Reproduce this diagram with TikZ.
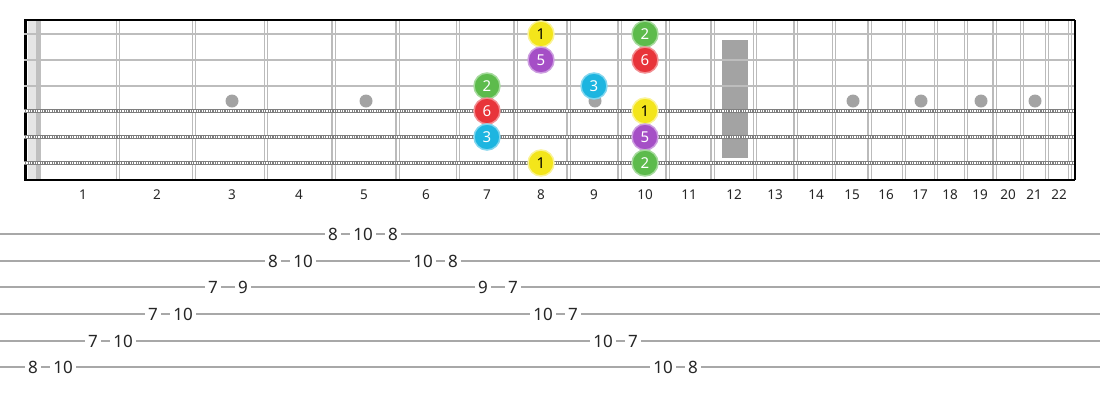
\documentclass[tikz,border=0pt]{standalone}
\usepackage{fontspec}
\setmainfont{Noto Sans}
\usepackage{xcolor}
\usepackage{tikz}
\definecolor{fretgray}{HTML}{BBBBBB}
\definecolor{plaingray}{HTML}{BDBDBD}
\definecolor{woundgray}{HTML}{7E7E7E}
\definecolor{inlaygray}{HTML}{A3A3A3}
\definecolor{tabgray}{HTML}{A8A8A8}
\definecolor{yellownote}{HTML}{F3E51B}
\definecolor{greennote}{HTML}{5DBB4C}
\definecolor{purplenote}{HTML}{A54FC6}
\definecolor{rednote}{HTML}{E8343A}
\definecolor{cyannote}{HTML}{1DB5E0}

\begin{document}
\begin{tikzpicture}[x=1pt,y=-1pt]
	\useasboundingbox (0,0) rectangle (1100,400);
	\tikzstyle{fretwire}=[draw=fretgray,double=white,double distance=2pt,line width=1.2pt]
	\tikzstyle{plainstring}=[draw=plaingray,line width=2.6pt]
	\tikzstyle{woundbase}=[draw=woundgray,line width=4.4pt]
	\tikzstyle{woundtex}=[draw=white,line width=1.3pt,dash pattern=on 1.1pt off 1.3pt]
	\tikzstyle{inlay}=[fill=inlaygray]
	\tikzstyle{fretnum}=[font=\fontsize{13.5}{15}\selectfont,text=black!85]
	\tikzstyle{tabnum}=[fill=white,inner sep=3.5pt,font=\fontsize{17}{19}\selectfont,text=black!85]
	\tikzstyle{note}=[draw,circle,line width=1.5pt,minimum size=26pt,inner sep=0pt,font=\fontsize{15}{17}\selectfont,text=white]
	\tikzstyle{yellow}=[note,fill=yellownote,draw=yellownote!45!white,text=black]
	\tikzstyle{green}=[note,fill=greennote,draw=greennote!55!white]
	\tikzstyle{purple}=[note,fill=purplenote,draw=purplenote!55!white]
	\tikzstyle{red}=[note,fill=rednote,draw=rednote!55!white]
	\tikzstyle{cyan}=[note,fill=cyannote,draw=cyannote!55!white]
	% nut
	\fill[black!10] (28,20) rectangle (36,180);
	\fill[black!25] (36,20) rectangle (41,180);
	\draw[line width=3.5pt] (25.5,20)--(25.5,180);
	% frets
	\draw[fretwire] (118,20)--(118,180) (194,20)--(194,180) (266,20)--(266,180) (333.5,20)--(333.5,180)
		(397.5,20)--(397.5,180) (458,20)--(458,180) (515.5,20)--(515.5,180) (568.5,20)--(568.5,180)
		(619.5,20)--(619.5,180) (667.5,20)--(667.5,180) (712.5,20)--(712.5,180) (755,20)--(755,180)
		(795.5,20)--(795.5,180) (834,20)--(834,180) (869.5,20)--(869.5,180) (904,20)--(904,180)
		(936,20)--(936,180) (966,20)--(966,180) (994.5,20)--(994.5,180) (1022,20)--(1022,180)
		(1047,20)--(1047,180) (1070,20)--(1070,180);
	% inlays
	\fill[inlay] (232,101) circle (6.5) (366,101) circle (6.5) (487,101) circle (6.5) (595,101) circle (6.5)
		(853,101) circle (6.5) (921,101) circle (6.5) (981,101) circle (6.5) (1035,101) circle (6.5);
	\fill[inlay] (722,40) rectangle (748,158);
	% strings
	\draw[plainstring] (24,34)--(1075,34) (24,60)--(1075,60) (24,86)--(1075,86);
	\draw[woundbase] (24,111)--(1075,111) (24,137)--(1075,137) (24,163)--(1075,163);
	\draw[woundtex] (24,111)--(1075,111) (24,137)--(1075,137) (24,163)--(1075,163);
	% border
	\draw[line width=1.6pt] (24,20)--(1075,20) (24,180)--(1075,180);
	\draw[line width=1.6pt] (1075,20)--(1075,180);
	% fret numbers
	\node[fretnum] (f1) at (83,195) {1};
	\node[fretnum] (f2) at (157,195) {2};
	\node[fretnum] (f3) at (232,195) {3};
	\node[fretnum] (f4) at (299,195) {4};
	\node[fretnum] (f5) at (364,195) {5};
	\node[fretnum] (f6) at (426,195) {6};
	\node[fretnum] (f7) at (487,195) {7};
	\node[fretnum] (f8) at (541,195) {8};
	\node[fretnum] (f9) at (594,195) {9};
	\node[fretnum] (f10) at (645,195) {10};
	\node[fretnum] (f11) at (689,195) {11};
	\node[fretnum] (f12) at (734,195) {12};
	\node[fretnum] (f13) at (775,195) {13};
	\node[fretnum] (f14) at (816,195) {14};
	\node[fretnum] (f15) at (852,195) {15};
	\node[fretnum] (f16) at (886,195) {16};
	\node[fretnum] (f17) at (920,195) {17};
	\node[fretnum] (f18) at (950,195) {18};
	\node[fretnum] (f19) at (980,195) {19};
	\node[fretnum] (f20) at (1008,195) {20};
	\node[fretnum] (f21) at (1034,195) {21};
	\node[fretnum] (f22) at (1059,195) {22};
	% scale notes
	\node[yellow] (n1a) at (541,34) {1};
	\node[green] (n1b) at (645,34) {2};
	\node[purple] (n2a) at (541,60) {5};
	\node[red] (n2b) at (645,60) {6};
	\node[green] (n3a) at (487,86) {2};
	\node[cyan] (n3b) at (594,86) {3};
	\node[red] (n4a) at (487,111) {6};
	\node[yellow] (n4b) at (645,111) {1};
	\node[cyan] (n5a) at (487,137) {3};
	\node[purple] (n5b) at (645,137) {5};
	\node[yellow] (n6a) at (541,163) {1};
	\node[green] (n6b) at (645,163) {2};
	% tab
	\draw[tabgray,line width=1.5pt] (0,234)--(1100,234) (0,261)--(1100,261) (0,287)--(1100,287)
		(0,314)--(1100,314) (0,341)--(1100,341) (0,367)--(1100,367);
	\node[tabnum] (t1) at (33,367) {8};
	\node[tabnum] (t2) at (63,367) {10};
	\node[tabnum] (t3) at (93,341) {7};
	\node[tabnum] (t4) at (123,341) {10};
	\node[tabnum] (t5) at (153,314) {7};
	\node[tabnum] (t6) at (183,314) {10};
	\node[tabnum] (t7) at (213,287) {7};
	\node[tabnum] (t8) at (243,287) {9};
	\node[tabnum] (t9) at (273,261) {8};
	\node[tabnum] (t10) at (303,261) {10};
	\node[tabnum] (t11) at (333,234) {8};
	\node[tabnum] (t12) at (363,234) {10};
	\node[tabnum] (t13) at (393,234) {8};
	\node[tabnum] (t14) at (423,261) {10};
	\node[tabnum] (t15) at (453,261) {8};
	\node[tabnum] (t16) at (483,287) {9};
	\node[tabnum] (t17) at (513,287) {7};
	\node[tabnum] (t18) at (543,314) {10};
	\node[tabnum] (t19) at (573,314) {7};
	\node[tabnum] (t20) at (603,341) {10};
	\node[tabnum] (t21) at (633,341) {7};
	\node[tabnum] (t22) at (663,367) {10};
	\node[tabnum] (t23) at (693,367) {8};
\end{tikzpicture}
\end{document}
